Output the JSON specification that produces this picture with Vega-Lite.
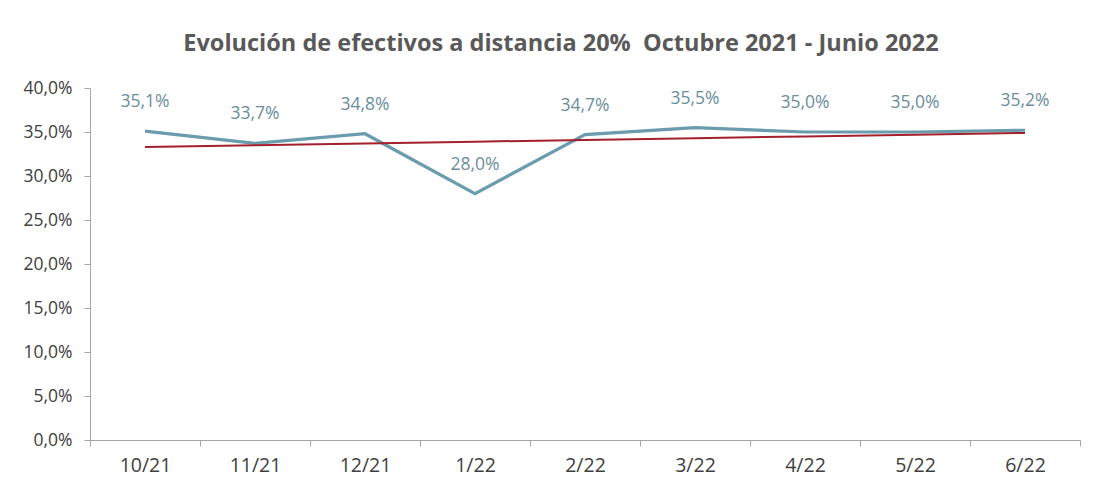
{
  "$schema": "https://vega.github.io/schema/vega-lite/v6.json",
  "width": 990,
  "height": 352,
  "autosize": {"type": "none"},
  "padding": {"left": 90, "top": 88, "right": 26, "bottom": 62},
  "background": "white",
  "config": {
    "locale": {"number": {"decimal": ",", "thousands": ".", "grouping": [3], "currency": ["", " €"]}},
    "view": {"stroke": null},
    "font": "Open Sans"
  },
  "title": {
    "text": "Evolución de efectivos a distancia 20% \u00a0Octubre 2021 - Junio 2022",
    "fontSize": 23.5,
    "fontWeight": "bold",
    "color": "#595959",
    "font": "Open Sans",
    "anchor": "middle",
    "dx": -24,
    "offset": 24
  },
  "data": {
    "values": [
      {"mes": "10/21", "valor": 0.351, "tendencia": 0.333},
      {"mes": "11/21", "valor": 0.337, "tendencia": 0.335},
      {"mes": "12/21", "valor": 0.348, "tendencia": 0.337},
      {"mes": "1/22", "valor": 0.280, "tendencia": 0.339},
      {"mes": "2/22", "valor": 0.347, "tendencia": 0.341},
      {"mes": "3/22", "valor": 0.355, "tendencia": 0.343},
      {"mes": "4/22", "valor": 0.350, "tendencia": 0.345},
      {"mes": "5/22", "valor": 0.350, "tendencia": 0.347},
      {"mes": "6/22", "valor": 0.352, "tendencia": 0.349}
    ]
  },
  "encoding": {
    "x": {
      "field": "mes",
      "type": "ordinal",
      "sort": null,
      "scale": {"paddingInner": 0, "paddingOuter": 0},
      "axis": {
        "title": null,
        "labelAngle": 0,
        "labelFontSize": 19.5,
        "labelColor": "#404040",
        "labelPadding": 10,
        "tickBand": "extent",
        "domainColor": "#a6a6a6",
        "tickColor": "#a6a6a6",
        "tickSize": 6,
        "grid": false
      }
    }
  },
  "layer": [
    {
      "mark": {"type": "line", "color": "#6a9cad", "strokeWidth": 3.2},
      "encoding": {
        "y": {
          "field": "valor",
          "type": "quantitative",
          "scale": {"domain": [0, 0.4], "nice": false},
          "axis": {
            "title": null,
            "format": ".1%",
            "values": [0, 0.05, 0.1, 0.15, 0.2, 0.25, 0.3, 0.35, 0.4],
            "labelFontSize": 17.5,
            "labelColor": "#404040",
            "labelPadding": 12,
            "domainColor": "#a6a6a6",
            "tickColor": "#a6a6a6",
            "tickSize": 6,
            "grid": false
          }
        }
      }
    },
    {
      "mark": {"type": "line", "color": "#a3202c", "strokeWidth": 2},
      "encoding": {
        "y": {"field": "tendencia", "type": "quantitative"}
      }
    },
    {
      "mark": {"type": "text", "dy": -29, "fontSize": 17.5, "color": "#6a8e9c", "font": "Open Sans"},
      "encoding": {
        "y": {"field": "valor", "type": "quantitative"},
        "text": {"field": "valor", "type": "quantitative", "format": ".1%"}
      }
    }
  ]
}
